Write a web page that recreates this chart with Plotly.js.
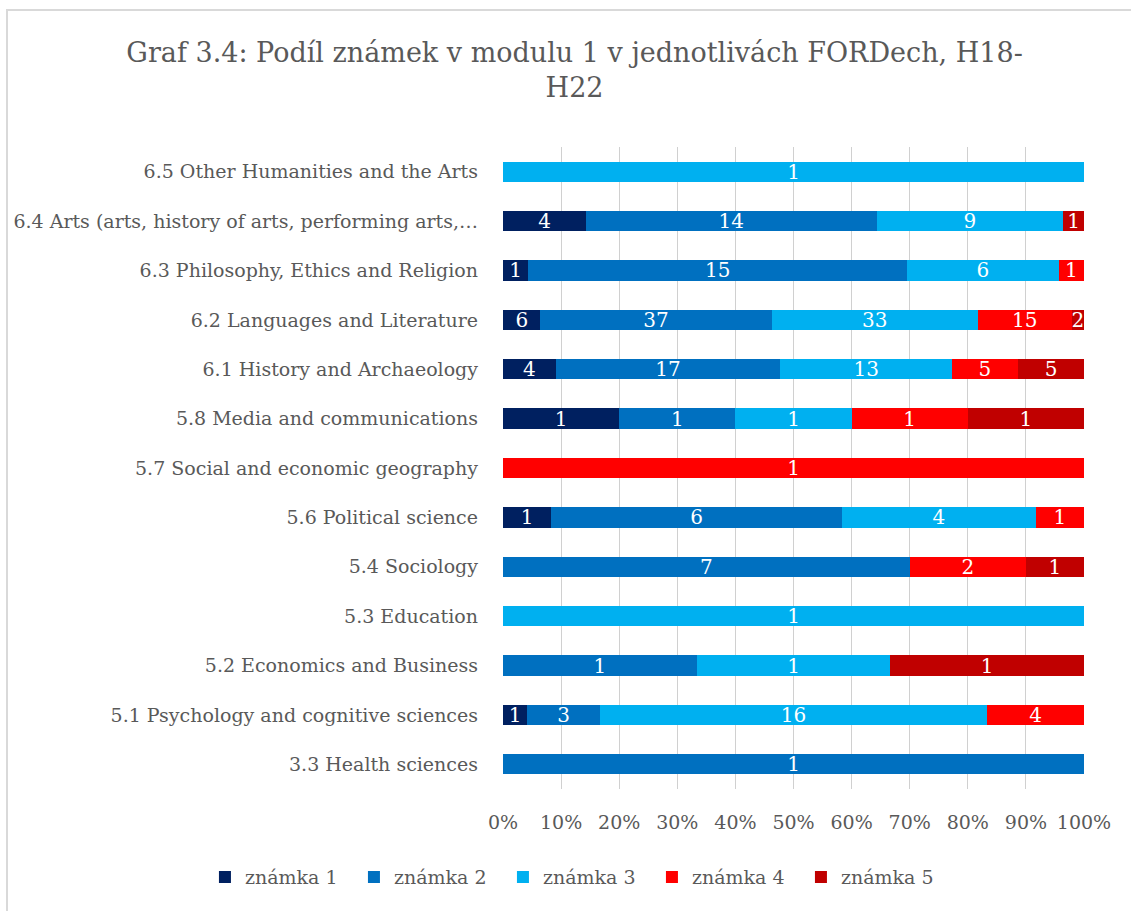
<!DOCTYPE html>
<html>
<head>
<meta charset="utf-8">
<script src="https://cdn.plot.ly/plotly-3.0.1.min.js"></script>
<style>
  html, body { margin: 0; padding: 0; background: #ffffff; }
  #wrap { position: relative; width: 1131px; height: 911px; overflow: hidden; }
  #frame { position: absolute; left: 6px; top: 9px; width: 1200px; height: 1000px;
           border-left: 2px solid #d9d9d9; border-top: 2px solid #d9d9d9; pointer-events: none; }
  #chart { position: absolute; left: 0; top: 0; width: 1131px; height: 911px; }
</style>
</head>
<body>
<div id="wrap">
  <div id="chart"></div>
  <div id="frame"></div>
</div>
<script>
// Categories (bottom to top)
const categories = [
  '3.3 Health sciences',
  '5.1 Psychology and cognitive sciences',
  '5.2 Economics and Business',
  '5.3 Education',
  '5.4 Sociology',
  '5.6 Political science',
  '5.7 Social and economic geography',
  '5.8 Media and communications',
  '6.1 History and Archaeology',
  '6.2 Languages and Literature',
  '6.3 Philosophy, Ethics and Religion',
  '6.4 Arts (arts, history of arts, performing arts,\u2026',
  '6.5 Other Humanities and the Arts'
];

// Counts per grade (null = none)
const znamka1 = [null, 1, null, null, null, 1, null, 1, 4, 6, 1, 4, null];
const znamka2 = [1, 3, 1, null, 7, 6, null, 1, 17, 37, 15, 14, null];
const znamka3 = [null, 16, 1, 1, null, 4, null, 1, 13, 33, 6, 9, 1];
const znamka4 = [null, 4, null, null, 2, 1, 1, 1, 5, 15, 1, null, null];
const znamka5 = [null, null, 1, null, 1, null, null, 1, 5, 2, null, 1, null];

const seriesNames = ['známka 1', 'známka 2', 'známka 3', 'známka 4', 'známka 5'];
const seriesValues = [znamka1, znamka2, znamka3, znamka4, znamka5];
const seriesColors = ['#002060', '#0070C0', '#00B0F0', '#FF0000', '#C00000'];

const xTickVals = [0, 10, 20, 30, 40, 50, 60, 70, 80, 90, 100];
const xTickText = ['0%', '10%', '20%', '30%', '40%', '50%', '60%', '70%', '80%', '90%', '100%'];

const FONT = 'DejaVu Serif, Liberation Serif, serif';

const traces = seriesValues.map((vals, i) => ({
  type: 'bar',
  orientation: 'h',
  name: seriesNames[i],
  y: categories,
  x: vals,
  text: vals.map(v => (v === null ? '' : String(v))),
  texttemplate: '%{text}',
  textposition: 'inside',
  insidetextanchor: 'middle',
  textangle: 0,
  constraintext: 'none',
  insidetextfont: { family: FONT, size: 20, color: '#ffffff' },
  marker: { color: seriesColors[i], line: { width: 0 } },
  hoverinfo: 'skip'
}));

const layout = {
  width: 1131,
  height: 911,
  paper_bgcolor: '#ffffff',
  plot_bgcolor: '#ffffff',
  barmode: 'stack',
  barnorm: 'percent',
  bargap: 0.59,
  font: { family: FONT, color: '#595959', size: 19 },
  margin: { l: 503, r: 47, t: 147, b: 122, pad: 0 },
  title: {
    text: 'Graf 3.4: Podíl známek v modulu 1 v jednotlivách FORDech, H18-<br>H22',
    font: { family: FONT, size: 27, color: '#595959' },
    xref: 'container',
    x: 0.508,
    xanchor: 'center',
    yref: 'container',
    y: 0.932,
    yanchor: 'middle'
  },
  xaxis: {
    range: [0, 100],
    tickvals: xTickVals,
    ticktext: xTickText,
    showgrid: true,
    gridcolor: '#d0d0d0',
    gridwidth: 1,
    zeroline: false,
    showline: false,
    ticks: '',
    ticklabelstandoff: 20,
    tickfont: { family: FONT, size: 19, color: '#595959' },
    fixedrange: true
  },
  yaxis: {
    type: 'category',
    categoryorder: 'array',
    categoryarray: categories,
    showgrid: false,
    zeroline: false,
    showline: false,
    ticks: '',
    ticklabelstandoff: 24,
    tickfont: { family: FONT, size: 19, color: '#595959' },
    fixedrange: true
  },
  legend: {
    orientation: 'h',
    xref: 'paper',
    x: -0.513,
    xanchor: 'left',
    yref: 'paper',
    y: -0.1373,
    yanchor: 'middle',
    traceorder: 'normal',
    font: { family: FONT, size: 19, color: '#595959' },
    itemwidth: 30,
    entrywidth: 104,
    entrywidthmode: 'pixels'
  },
  showlegend: true
};

Plotly.newPlot('chart', traces, layout, { displayModeBar: false, staticPlot: true });
</script>
</body>
</html>
